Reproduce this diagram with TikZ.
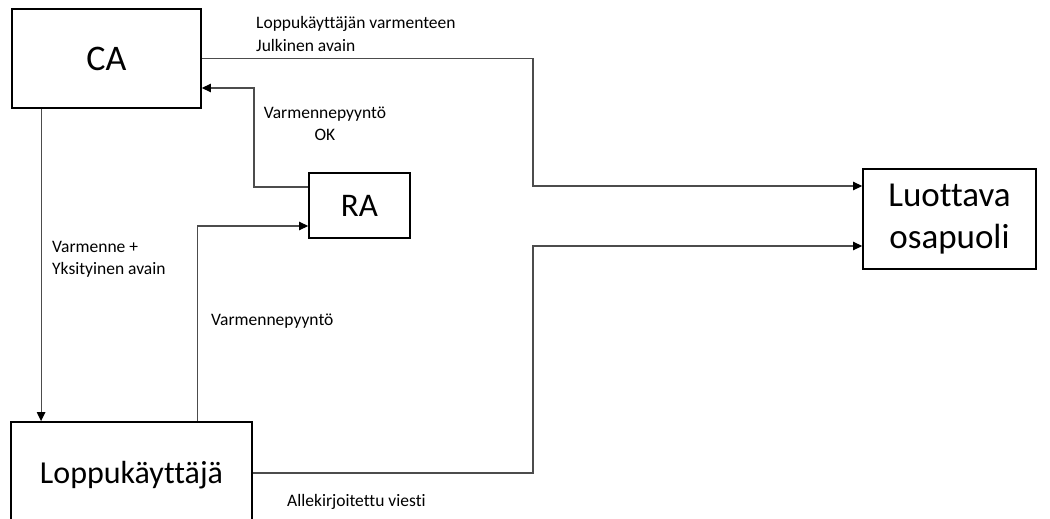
\documentclass[tikz,border=0pt]{standalone}
\usepackage{fontspec}
\setmainfont{Carlito}[Ligatures={NoCommon}]
\usetikzlibrary{arrows.meta}

\tikzset{
  entity/.style={draw=black, line width=1.8pt, fill=white, inner sep=0pt,
    align=center, font=\fontsize{32}{37}\selectfont},
  conn/.style={draw=black!70, line width=1.2pt},
  flow/.style={conn, -{Triangle[length=9pt,width=8.5pt,color=black]}},
  lbl/.style={inner sep=0pt, align=left, font=\fontsize{17.5}{22.5}\selectfont}
}

\begin{document}
\begin{tikzpicture}[x=1pt, y=-1pt]
  \useasboundingbox (0,0) rectangle (1050,519);
  \clip (0,0) rectangle (1050,519);

  % parties
  \node[entity, minimum width=189pt, minimum height=99pt,
        font=\fontsize{36}{40}\selectfont]                  (ca)    at (106.5,58.5) {CA};
  \node[entity, minimum width=101pt, minimum height=65pt,
        font=\fontsize{33}{38}\selectfont]                  (ra)    at (359.5,205.5) {RA};
  \node[entity, minimum width=173pt, minimum height=100pt,
        font=\fontsize{35}{42}\selectfont]                  (rp)    at (949.5,219) {Luottava\\osapuoli};
  \node[entity, minimum width=241pt, minimum height=106pt] (user)  at (131.5,475) {Loppukäyttäjä};

  % CA publishes the end user's public key to the relying party
  \draw[flow] (ca.east) -| (533,186) -- ([yshift=33pt]rp.west);
  % signed message from the end user to the relying party
  \draw[flow] ([yshift=2pt]user.east) -| (533,246) -- ([yshift=-27pt]rp.west);
  % certificate + private key from CA to the end user
  \draw[flow] ([xshift=30pt]ca.south west) -- ([xshift=31pt]user.north west);
  % certificate request from the end user to RA
  \draw[flow] ([xshift=187pt]user.north west) |- ([yshift=-20.5pt]ra.west);
  % approved request from RA to CA
  \draw[flow] ([yshift=18.5pt]ra.west) -| (254,88) -- ([yshift=-29.5pt]ca.east);

  % connector labels
  \node[lbl, anchor=west] (lpub) at (256,34) {Loppukäyttäjän varmenteen\\Julkinen avain};
  \node[lbl, align=center] (lok) at (325,124) {Varmennepyyntö\\OK};
  \node[lbl, anchor=west] (lkey) at (52,259.5) {Varmenne +\\Yksityinen avain};
  \node[lbl, anchor=west] (lreq) at (211,321) {Varmennepyyntö};
  \node[lbl, anchor=west] (lsig) at (287,502) {Allekirjoitettu viesti};
\end{tikzpicture}
\end{document}
